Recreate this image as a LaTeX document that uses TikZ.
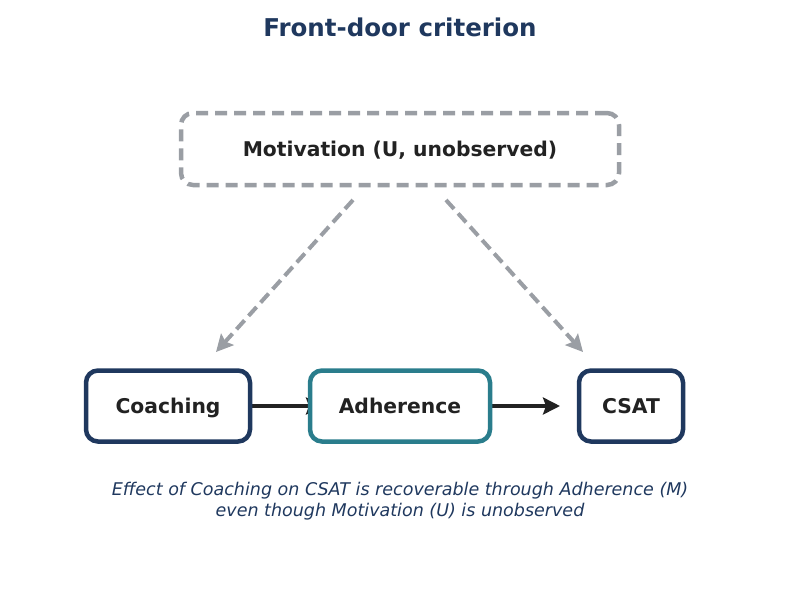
\documentclass[tikz,border=0pt]{standalone}
\usepackage{fontspec}
\setmainfont{DejaVu Sans}
\usepackage{xcolor}
\usetikzlibrary{arrows.meta}
\usetikzlibrary{backgrounds,positioning}
\pgfdeclarelayer{edgelayer}
\pgfdeclarelayer{nodelayer}
\pgfsetlayers{background,edgelayer,nodelayer,main}
\definecolor{navy}{RGB}{31,56,94}
\definecolor{tealc}{RGB}{42,125,140}
\definecolor{greyc}{RGB}{154,158,164}
\definecolor{inkc}{RGB}{34,34,34}
\tikzstyle{box}=[shape=rectangle,rounded corners=12pt,fill=white,line width=4.5pt,minimum height=71pt,font=\fontsize{20.3}{24}\selectfont\bfseries,text=inkc,text height=15.4pt,text depth=0pt]
\tikzstyle{obs}=[box,draw=navy]
\tikzstyle{med}=[box,draw=tealc]
\tikzstyle{latent}=[box,draw=greyc,dash pattern=on 12pt off 7pt,minimum height=72pt]
\tikzstyle{causal}=[line width=4pt,draw=inkc,-{Stealth[length=17pt,width=17pt,inset=3pt]}]
\tikzstyle{confound}=[line width=4pt,draw=greyc,dash pattern=on 12pt off 6pt,-{Stealth[length=17pt,width=17pt,inset=3pt]}]
\tikzset{x=1pt,y=-1pt}

\begin{document}
\begin{tikzpicture}
	\useasboundingbox (0,0) rectangle (799,600);
	\node [font=\fontsize{24.5}{30}\selectfont\bfseries,text=navy] (title) at (400, 27) {Front-door criterion};
	\begin{pgfonlayer}{nodelayer}
		\node [style=latent,minimum width=438pt] (u) at (400, 149) {Motivation (U, unobserved)};
		\node [style=obs,minimum width=164pt] (x) at (168, 406) {Coaching};
		\node [style=med,minimum width=180pt] (m) at (400, 406) {Adherence};
		\node [style=obs,minimum width=104pt] (y) at (631, 406) {CSAT};
	\end{pgfonlayer}
	\coordinate (u1) at (353, 200);
	\coordinate (u2) at (446, 200);
	\coordinate (xt) at (216, 352);
	\coordinate (yt) at (583, 352);
	\coordinate (mt) at (323, 406);
	\coordinate (ct) at (560, 406);
	\begin{pgfonlayer}{edgelayer}
		\draw [style=causal] (x.east) to (mt);
		\draw [style=causal] (m.east) to (ct);
		\draw [style=confound] (u1) to (xt);
		\draw [style=confound] (u2) to (yt);
	\end{pgfonlayer}
	\node [font=\fontsize{17.5}{21}\selectfont\itshape,text=navy,align=center] (note) at (400, 501) {Effect of Coaching on CSAT is recoverable through Adherence (M)\\even though Motivation (U) is unobserved};
\end{tikzpicture}
\end{document}
